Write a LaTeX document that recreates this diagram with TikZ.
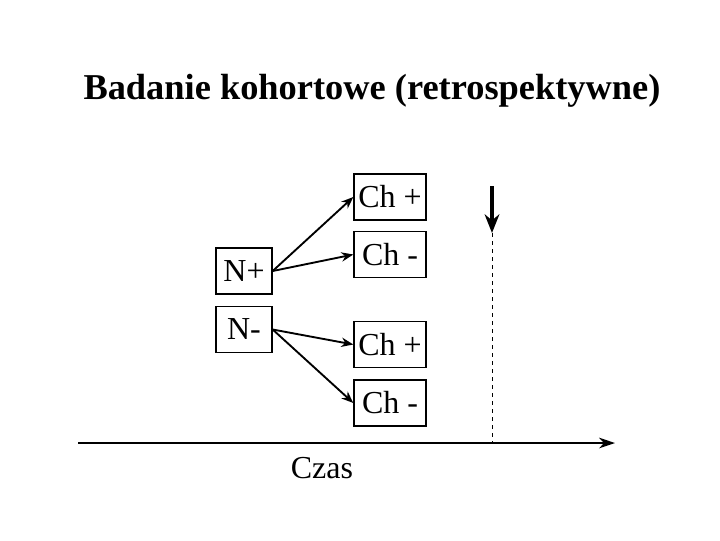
\documentclass[tikz,border=0pt]{standalone}
\usepackage{fontspec}
\setmainfont{Liberation Serif}
\usetikzlibrary{arrows.meta}
\begin{document}
\begin{tikzpicture}[x=0.75pt,y=-0.75pt,
  box/.style={draw,line width=1pt,minimum width=72*0.75pt,minimum height=46*0.75pt,inner sep=0pt,font=\fontsize{24}{27}\selectfont},
  nbox/.style={box,minimum width=56*0.75pt},
  arr/.style={line width=1.4pt,-{Stealth[length=9pt,width=7pt]}}]
\useasboundingbox (0,0) rectangle (720,540);
\node (title) at (372,91) {\fontsize{27.3}{30}\selectfont\bfseries Badanie kohortowe (retrospektywne)};
\node[box] (c1) at (390,197) {Ch +};
\node[box] (c2) at (390,254.5) {Ch -};
\node[box] (c3) at (390,344.5) {Ch +};
\node[box] (c4) at (390,403) {Ch -};
\node[nbox] (np) at (244,271) {N+};
\node[nbox] (nm) at (244,329.5) {N-};
\draw[arr] (np.east) -- (c1.west);
\draw[arr] (np.east) -- (c2.west);
\draw[arr] (nm.east) -- (c3.west);
\draw[arr] (nm.east) -- (c4.west);
\coordinate (a0) at (78,443);
\coordinate (a1) at (615,443);
\draw[line width=1.5pt,-{Stealth[length=12pt,width=8pt]}] (a0) -- (a1);
\coordinate (v0) at (492,186);
\coordinate (v1) at (492,233);
\coordinate (v2) at (492,443);
\draw[line width=2.5pt,-{Stealth[length=14pt,width=11pt]}] (v0) -- (v1);
\draw[dashed,line width=0.7pt] (v1) -- (v2);
\node (czas) at (322,468) {\fontsize{24}{27}\selectfont Czas};
\end{tikzpicture}
\end{document}
